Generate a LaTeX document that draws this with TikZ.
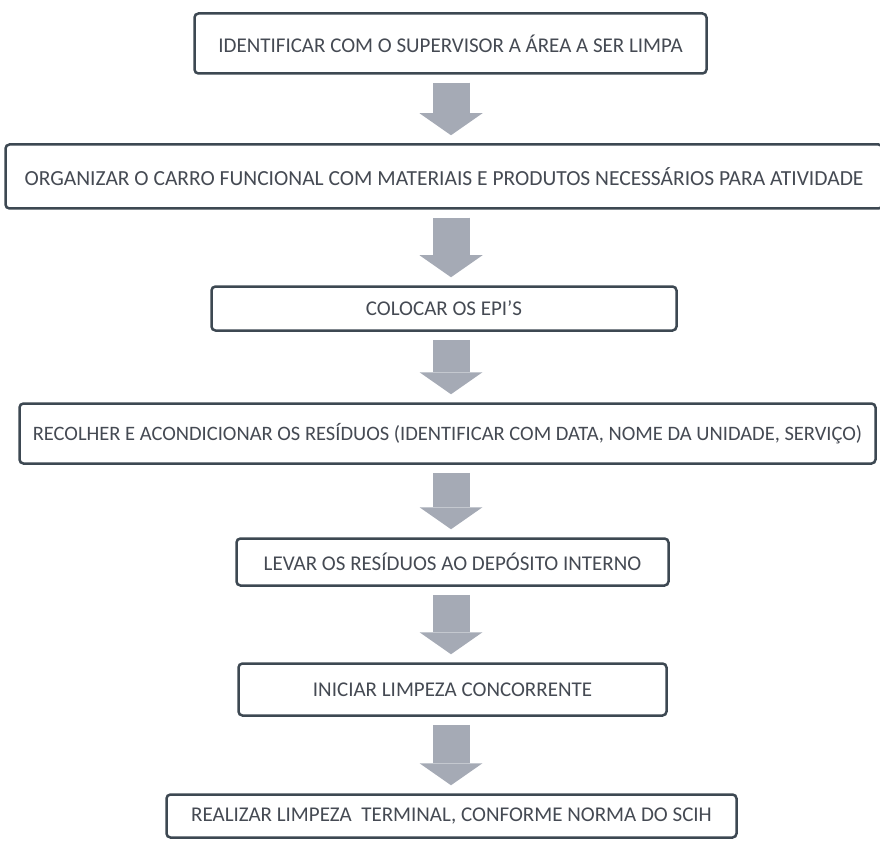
\documentclass[tikz,border=0pt]{standalone}
\usepackage{fontspec}
\setmainfont{Carlito}
\usetikzlibrary{arrows.meta}
\definecolor{borda}{HTML}{3D4852}
\definecolor{texto}{HTML}{454A53}
\definecolor{setacinza}{HTML}{A5AAB5}
\begin{document}
\begin{tikzpicture}[x=1pt,y=-1pt,
    etapa/.style={draw=borda,line width=2.5pt,rounded corners=4pt,fill=white,
        text=texto,inner sep=0pt,font=\fontsize{21}{25}\selectfont},
    fluxo/.style={draw=setacinza,line width=37pt,
        -{Triangle[width=63pt,length=22pt,line width=0pt]},
        shorten <=8pt,shorten >=8pt}]
    \useasboundingbox (0,0) rectangle (880,842);
    \coordinate (eixo) at (451,0);

    % etapas
    \node[etapa,minimum width=512pt,minimum height=60pt] (b1) at (450.5,43.5)
        {IDENTIFICAR COM O SUPERVISOR A ÁREA A SER LIMPA};
    \node[etapa,minimum width=877pt,minimum height=64pt] (b2) at (444,176.5)
        {\fontsize{21.5}{25}\selectfont ORGANIZAR O CARRO FUNCIONAL COM MATERIAIS E PRODUTOS NECESSÁRIOS PARA ATIVIDADE};
    \node[etapa,minimum width=465pt,minimum height=44pt] (b3) at (444,308.5)
        {COLOCAR OS EPI'S};
    \node[etapa,minimum width=856pt,minimum height=60pt] (b4) at (447.5,433.5)
        {\fontsize{20.5}{25}\selectfont RECOLHER E ACONDICIONAR OS RESÍDUOS (IDENTIFICAR COM DATA, NOME DA UNIDADE, SERVIÇO)};
    \node[etapa,minimum width=432pt,minimum height=47pt] (b5) at (452.5,562)
        {LEVAR OS RESÍDUOS AO DEPÓSITO INTERNO};
    \node[etapa,minimum width=428pt,minimum height=52pt] (b6) at (452.5,689.5)
        {INICIAR LIMPEZA CONCORRENTE};
    \node[etapa,minimum width=570pt,minimum height=43pt] (b7) at (451.5,816)
        {REALIZAR LIMPEZA~ TERMINAL, CONFORME NORMA DO SCIH};

    % setas
    \draw[fluxo] (b1.south -| eixo) -- (b2.north -| eixo);
    \draw[fluxo] (b2.south -| eixo) -- (b3.north -| eixo);
    \draw[fluxo] (b3.south -| eixo) -- (b4.north -| eixo);
    \draw[fluxo] (b4.south -| eixo) -- (b5.north -| eixo);
    \draw[fluxo] (b5.south -| eixo) -- (b6.north -| eixo);
    \draw[fluxo] (b6.south -| eixo) -- (b7.north -| eixo);
\end{tikzpicture}
\end{document}
